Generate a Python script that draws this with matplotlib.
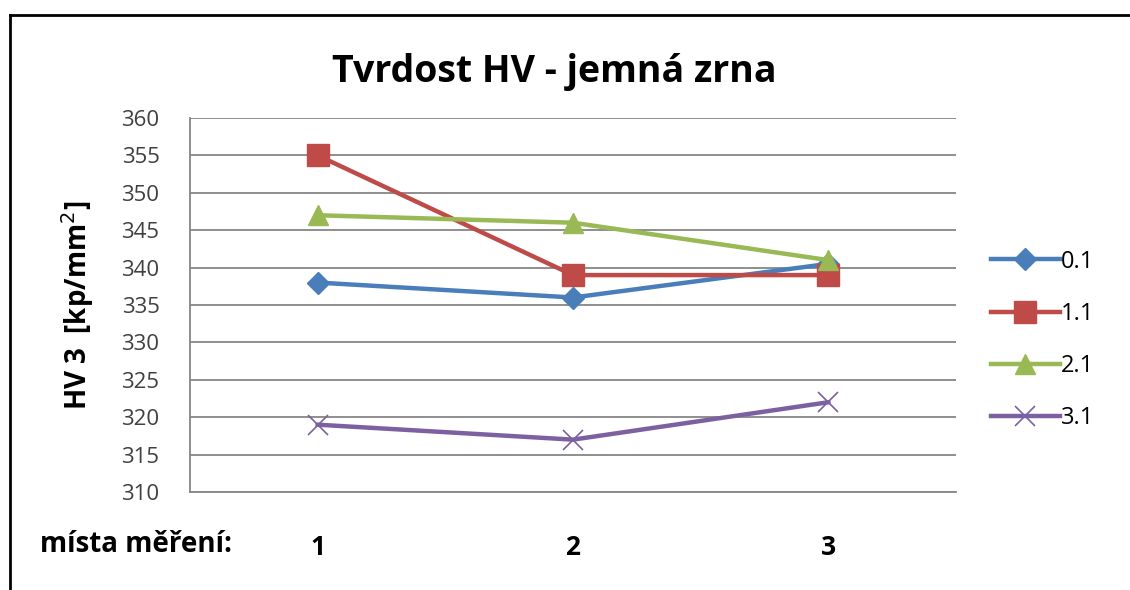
import matplotlib
matplotlib.use("Agg")
import matplotlib.pyplot as plt
from matplotlib.lines import Line2D

# Measurement points and hardness values (HV 3, kp/mm^2)
places = [1, 2, 3]
place_labels = ["1", "2", "3"]
series_names = ["0.1", "1.1", "2.1", "3.1"]
hv_01 = [338, 336, 340.5]
hv_11 = [355, 339, 339]
hv_21 = [347, 346, 341]
hv_31 = [319, 317, 322]
y_ticks = [310, 315, 320, 325, 330, 335, 340, 345, 350, 355, 360]

plt.rcParams['font.family'] = ['Open Sans', 'DejaVu Sans']

W, H = 1130, 590
fig = plt.figure(figsize=(W / 100, H / 100), dpi=100)
fig.patch.set_facecolor("white")

ax = fig.add_axes([190 / W, 1 - 492 / H, (956 - 190) / W, (492 - 118) / H])

styles = [
    dict(color="#4A7EBB", marker="D", markersize=11),
    dict(color="#BE4B48", marker="s", markersize=16),
    dict(color="#98B954", marker="^", markersize=14),
    dict(color="#7D60A0", marker="x", markersize=14, markeredgewidth=1.2),
]
for name, vals, st in zip(series_names, [hv_01, hv_11, hv_21, hv_31], styles):
    ax.plot(places, vals, linewidth=3.2, label=name, clip_on=False, **st)

ax.set_xlim(0.5, 3.5)
ax.set_ylim(310, 360)
ax.set_yticks(y_ticks)
ax.set_yticklabels([str(v) for v in y_ticks], fontsize=16, color="#404040")
ax.set_xticks(places)
ax.set_xticklabels(place_labels, fontsize=19, fontweight="bold", color="black")
ax.tick_params(axis="both", length=0)
ax.tick_params(axis="x", pad=30)
ax.tick_params(axis="y", pad=22)
ax.grid(axis="y", color="#868686", linewidth=1.3)
ax.set_axisbelow(True)
for side in ("top", "right"):
    ax.spines[side].set_visible(False)
for side in ("left", "bottom"):
    ax.spines[side].set_color("#868686")
    ax.spines[side].set_linewidth(1.3)

ax.set_ylabel("HV 3  [kp/mm$^2$]", fontsize=20, fontweight="bold", labelpad=18)

fig.text(554 / W, 1 - 72 / H, "Tvrdost HV - jemná zrna", ha="center", va="center",
         fontsize=27, fontweight="bold", color="black")
fig.text(40 / W, 1 - 545 / H, "místa měření:", ha="left", va="center",
         fontsize=20, fontweight="bold", color="black")

leg = ax.legend(loc="center left", bbox_to_anchor=(970 / W, 1 - 340 / H),
                bbox_transform=fig.transFigure, frameon=False, fontsize=17,
                handlelength=2.9, labelspacing=1.2, handletextpad=0.05)

# Outer frame: left and top edges
fig.add_artist(Line2D([10 / W, 10 / W], [0, 1 - 15 / H], color="black", linewidth=2))
fig.add_artist(Line2D([10 / W, 1], [1 - 15 / H, 1 - 15 / H], color="black", linewidth=2))

fig.savefig("out.png", dpi=100, facecolor="white")
